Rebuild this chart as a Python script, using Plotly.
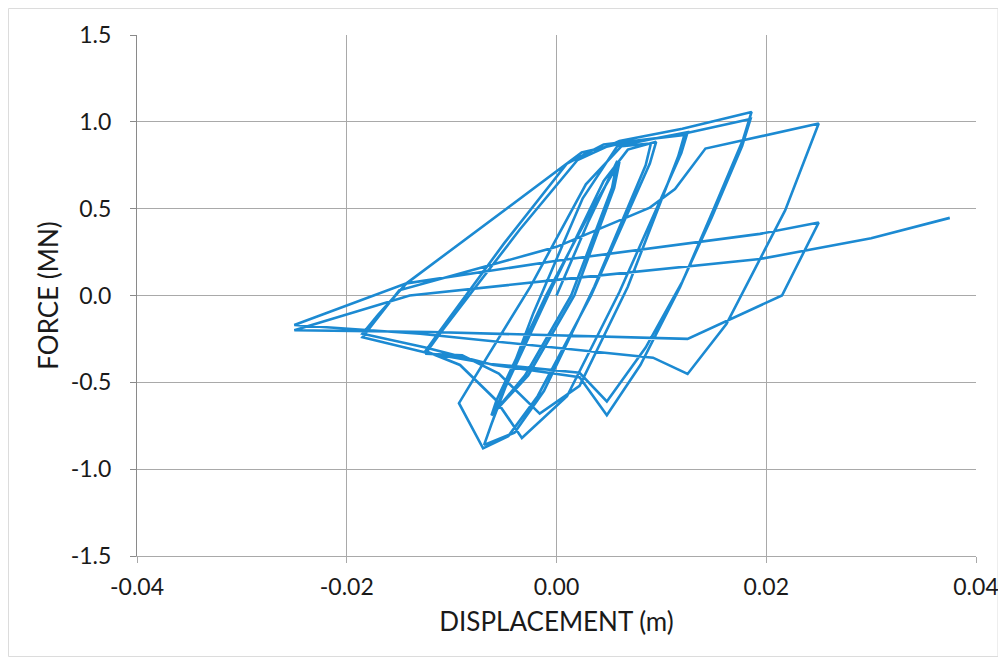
import plotly.graph_objects as go

# Hysteresis path: displacement (m) and force (MN)
disp = [
    0.0000, 0.0030, 0.0058,
    0.0053, 0.0014, -0.0030, -0.0062,
    -0.0057, -0.0010, 0.0034, 0.0060,
    0.0055, 0.0017, -0.0027, -0.0059,
    -0.0052, -0.0004, 0.0045, 0.0068, 0.0095,
    0.0089, 0.0033, -0.0018, -0.0046, -0.0070, -0.0093,
    -0.0083, -0.0025, 0.0028, 0.0062, 0.0090,
    0.0085, 0.0036, -0.0012, -0.0040, -0.0069,
    -0.0062, -0.0022, 0.0025, 0.0058, 0.0090, 0.0125,
    0.0119, 0.0060, 0.0010, -0.0033, -0.0058, -0.0092, -0.0125,
    -0.0112, -0.0050, 0.0010, 0.0045, 0.0122,
    0.0116, 0.0068, 0.0022, -0.0016, -0.0055, -0.0090, -0.0125,
    -0.0110, -0.0035, 0.0020, 0.0060, 0.0120, 0.0186,
    0.0178, 0.0150, 0.0118, 0.0080, 0.0048, 0.0022, -0.0060, -0.0125, -0.0185,
    -0.0170, -0.0143, 0.0024, 0.0057, 0.0120, 0.0185,
    0.0177, 0.0148, 0.0120, 0.0085, 0.0048, 0.0022, -0.0063, -0.0124, -0.0185,
    -0.0150, 0.0000, 0.0089, 0.0113, 0.0142, 0.0250,
    0.0229, 0.0218, 0.0162, 0.0125, 0.0092, 0.0000, -0.0130, -0.0250,
    -0.0143, 0.0000, 0.0194, 0.0250,
    0.0215, 0.0125, 0.0000, -0.0120, -0.0250,
    -0.0140, 0.0000, 0.0194, 0.0300, 0.0375,
]
force = [
    0.000, 0.420, 0.775,
    0.620, 0.000, -0.460, -0.690,
    -0.600, 0.000, 0.500, 0.770,
    0.620, 0.000, -0.460, -0.670,
    -0.570, 0.050, 0.660, 0.840, 0.885,
    0.760, 0.000, -0.580, -0.810, -0.880, -0.620,
    -0.520, 0.050, 0.640, 0.860, 0.875,
    0.750, 0.050, -0.550, -0.790, -0.860,
    -0.740, -0.100, 0.560, 0.860, 0.900, 0.940,
    0.820, 0.020, -0.580, -0.820, -0.600, -0.400, -0.320,
    -0.210, 0.300, 0.760, 0.870, 0.925,
    0.800, 0.050, -0.520, -0.680, -0.450, -0.345, -0.335,
    -0.210, 0.380, 0.780, 0.890, 0.960, 1.057,
    0.900, 0.500, 0.050, -0.400, -0.690, -0.470, -0.400, -0.300, -0.220,
    -0.110, 0.070, 0.823, 0.870, 0.930, 1.016,
    0.860, 0.450, 0.080, -0.300, -0.610, -0.445, -0.394, -0.330, -0.240,
    0.030, 0.280, 0.506, 0.613, 0.846, 0.990,
    0.660, 0.490, -0.165, -0.452, -0.358, -0.300, -0.220, -0.170,
    0.070, 0.200, 0.355, 0.420,
    0.000, -0.250, -0.230, -0.210, -0.200,
    0.000, 0.090, 0.210, 0.330, 0.447,
]

x_ticks = [-0.04, -0.02, 0.00, 0.02, 0.04]
x_tick_labels = ["-0.04", "-0.02", "0.00", "0.02", "0.04"]
y_ticks = [-1.5, -1.0, -0.5, 0.0, 0.5, 1.0, 1.5]
y_tick_labels = ["-1.5", "-1.0", "-0.5", "0.0", "0.5", "1.0", "1.5"]

LINE = "#1c8ad2"
GRID = "#a9a9a9"
FONT = "Lato, 'Open Sans', sans-serif"

fig = go.Figure()
fig.add_trace(go.Scatter(x=disp, y=force, mode="lines",
                         line=dict(color=LINE, width=2.6), hoverinfo="skip",
                         showlegend=False))

# page body has an 8px margin, so the figure is drawn from (8, 8)
W, H = 996, 649
ml, mr, mt, mb = 129, 28, 27, 101
pw, ph = W - ml - mr, H - mt - mb

fig.update_layout(
    width=W, height=H,
    margin=dict(l=ml, r=mr, t=mt, b=mb),
    paper_bgcolor="white", plot_bgcolor="white",
    font=dict(family=FONT, color="#1a1a1a"),
    xaxis=dict(range=[-0.04, 0.04], tickvals=x_ticks, ticktext=x_tick_labels,
               automargin=False,
               showgrid=True, gridcolor=GRID, gridwidth=1,
               zeroline=False, showline=True, linecolor=GRID, linewidth=1,
               ticks="outside", ticklen=6, tickcolor=GRID,
               ticklabelstandoff=4, ticklabeloverflow="allow",
               tickfont=dict(size=23, family=FONT),
               title=dict(text="DISPLACEMENT (m)", font=dict(size=26, family=FONT),
                          standoff=14)),
    yaxis=dict(range=[-1.5, 1.5], tickvals=y_ticks, ticktext=y_tick_labels,
               automargin=False,
               showgrid=True, gridcolor=GRID, gridwidth=1,
               zeroline=False, showline=True, linecolor="#8a8a8a", linewidth=1,
               ticks="outside", ticklen=6, tickcolor="#8a8a8a",
               ticklabelstandoff=14,
               tickfont=dict(size=23, family=FONT),
               title=dict(text="FORCE (MN)", font=dict(size=26, family=FONT),
                          standoff=4)),
    shapes=[dict(type="rect", xref="paper", yref="paper",
                 x0=-(ml - 0.5) / pw, x1=1 + (mr - 6) / pw,
                 y0=-(mb - 0.5) / ph, y1=1 + (mt - 0.5) / ph,
                 line=dict(color="#dcdcdc", width=1), fillcolor="rgba(0,0,0,0)",
                 layer="below")],
)

fig.write_html("out.html")
